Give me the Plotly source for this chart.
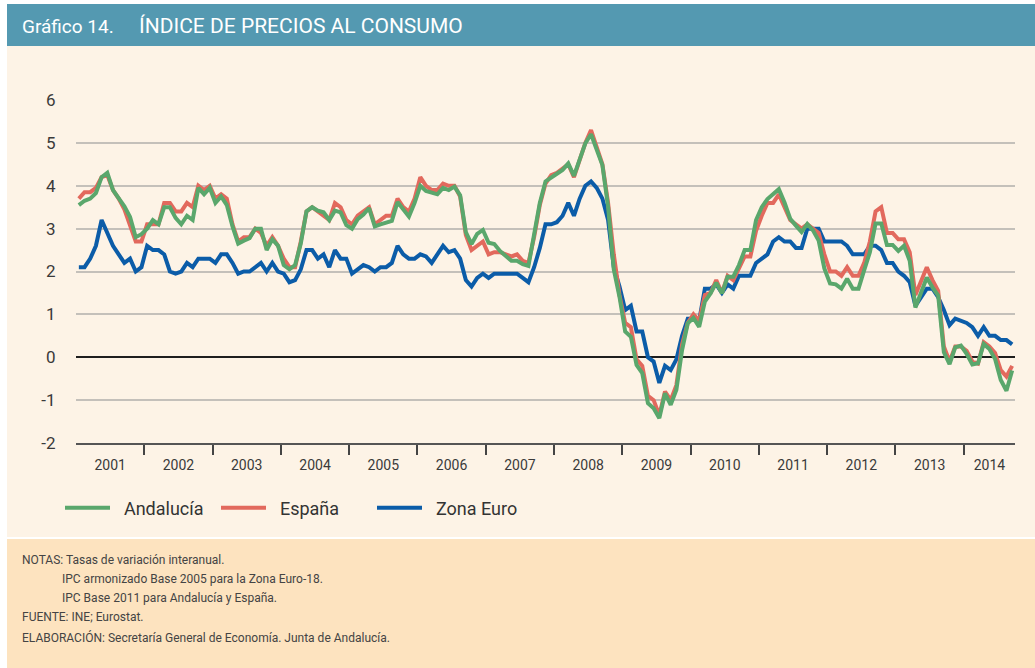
import plotly.graph_objects as go

# ---------------- data (monthly, Jan 2001 - Sep 2014) ----------------
years = ["2001", "2002", "2003", "2004", "2005", "2006", "2007",
         "2008", "2009", "2010", "2011", "2012", "2013", "2014"]

andalucia = [
    3.55, 3.65, 3.7, 3.83, 4.2, 4.3, 3.9, 3.72, 3.52, 3.27, 2.8, 2.87,
    3.0, 3.2, 3.1, 3.5, 3.5, 3.25, 3.1, 3.3, 3.2, 3.95, 3.8, 3.95,
    3.6, 3.75, 3.55, 3.05, 2.65, 2.72, 2.78, 3.0, 3.0, 2.5, 2.75, 2.6,
    2.15, 2.05, 2.15, 2.65, 3.4, 3.5, 3.42, 3.38, 3.2, 3.42, 3.38, 3.08,
    3.0, 3.22, 3.33, 3.48, 3.05, 3.1, 3.15, 3.18, 3.62, 3.43, 3.28, 3.6,
    4.0, 3.88, 3.85, 3.8, 3.95, 3.9, 3.98, 3.78, 2.92, 2.64, 2.88, 2.97,
    2.67, 2.64, 2.48, 2.36, 2.25, 2.25, 2.17, 2.13, 2.87, 3.6, 4.1, 4.2,
    4.28, 4.37, 4.52, 4.23, 4.6, 4.99, 5.2, 4.87, 4.48, 3.51, 2.05, 1.41,
    0.6, 0.48, -0.18, -0.37, -1.07, -1.19, -1.42, -0.84, -1.11, -0.76, 0.17, 0.79,
    0.92, 0.71, 1.3, 1.49, 1.74, 1.49, 1.88, 1.88, 2.15, 2.5, 2.5, 3.2,
    3.5, 3.69, 3.81, 3.92, 3.61, 3.23, 3.07, 2.92, 3.11, 2.96, 2.72, 2.07,
    1.72, 1.7, 1.6, 1.83, 1.6, 1.6, 2.03, 2.45, 3.12, 3.12, 2.62, 2.62,
    2.48, 2.6, 2.25, 1.16, 1.51, 1.86, 1.63, 1.44, 0.12, -0.16, 0.23, 0.27,
    0.08, -0.17, -0.14, 0.31, 0.19, -0.04, -0.53, -0.78, -0.31,
]

espana = [
    3.7, 3.85, 3.85, 3.95, 4.2, 4.25, 3.9, 3.7, 3.45, 3.1, 2.7, 2.7,
    3.1, 3.1, 3.1, 3.6, 3.6, 3.4, 3.4, 3.6, 3.5, 4.0, 3.9, 4.0,
    3.7, 3.8, 3.7, 3.1, 2.7, 2.8, 2.8, 3.0, 2.9, 2.6, 2.8, 2.6,
    2.3, 2.1, 2.1, 2.7, 3.4, 3.5, 3.4, 3.3, 3.2, 3.6, 3.5, 3.2,
    3.1, 3.3, 3.4, 3.5, 3.1, 3.2, 3.3, 3.3, 3.7, 3.5, 3.4, 3.7,
    4.2, 4.0, 3.9, 3.9, 4.05, 4.0, 4.0, 3.75, 2.85, 2.5, 2.6, 2.7,
    2.4, 2.45, 2.45, 2.4, 2.35, 2.4, 2.25, 2.2, 2.8, 3.55, 4.05, 4.25,
    4.3, 4.4, 4.5, 4.2, 4.6, 5.0, 5.3, 4.9, 4.5, 3.6, 2.4, 1.45,
    0.8, 0.7, -0.05, -0.2, -0.9, -1.0, -1.35, -0.8, -1.0, -0.65, 0.3, 0.8,
    1.0, 0.85, 1.45, 1.5, 1.8, 1.5, 1.9, 1.8, 2.1, 2.35, 2.35, 2.95,
    3.3, 3.6, 3.6, 3.8, 3.5, 3.2, 3.1, 3.0, 3.1, 3.0, 2.9, 2.4,
    2.0, 2.0, 1.9, 2.1, 1.9, 1.9, 2.2, 2.7, 3.4, 3.5, 2.9, 2.9,
    2.75, 2.75, 2.45, 1.45, 1.75, 2.1, 1.8, 1.55, 0.25, -0.1, 0.25, 0.25,
    0.15, -0.1, -0.15, 0.35, 0.25, 0.1, -0.3, -0.45, -0.2,
]

zona_euro = [
    2.1, 2.1, 2.3, 2.6, 3.2, 2.9, 2.6, 2.4, 2.2, 2.3, 2.0, 2.1,
    2.6, 2.5, 2.5, 2.4, 2.0, 1.95, 2.0, 2.2, 2.1, 2.3, 2.3, 2.3,
    2.2, 2.4, 2.4, 2.2, 1.95, 2.0, 2.0, 2.1, 2.2, 2.0, 2.2, 2.0,
    1.95, 1.75, 1.8, 2.05, 2.5, 2.5, 2.3, 2.4, 2.1, 2.5, 2.3, 2.3,
    1.95, 2.05, 2.15, 2.1, 2.0, 2.1, 2.1, 2.2, 2.6, 2.4, 2.3, 2.3,
    2.4, 2.35, 2.2, 2.4, 2.6, 2.45, 2.5, 2.3, 1.8, 1.65, 1.85, 1.95,
    1.85, 1.95, 1.95, 1.95, 1.95, 1.95, 1.85, 1.75, 2.1, 2.55, 3.1, 3.1,
    3.15, 3.3, 3.6, 3.3, 3.7, 4.0, 4.1, 3.95, 3.7, 3.2, 2.1, 1.65,
    1.1, 1.2, 0.6, 0.6, 0.0, -0.1, -0.6, -0.2, -0.3, -0.05, 0.5, 0.9,
    0.9, 0.85, 1.6, 1.6, 1.7, 1.5, 1.7, 1.6, 1.9, 1.9, 1.9, 2.2,
    2.3, 2.4, 2.7, 2.8, 2.7, 2.7, 2.55, 2.55, 3.0, 3.0, 3.0, 2.7,
    2.7, 2.7, 2.7, 2.6, 2.4, 2.4, 2.4, 2.6, 2.6, 2.5, 2.2, 2.2,
    2.0, 1.9, 1.75, 1.2, 1.4, 1.6, 1.6, 1.4, 1.1, 0.75, 0.9, 0.85,
    0.8, 0.7, 0.5, 0.7, 0.5, 0.5, 0.4, 0.4, 0.3,
]

series_names = ["Andalucía", "España", "Zona Euro"]
y_ticks = [-2, -1, 0, 1, 2, 3, 4, 5, 6]
y_ticktext = ["-2", "-1", "0", "1", "2", "3", "4", "5", "6"]
notes = [
    "NOTAS: Tasas de variación interanual.",
    "IPC armonizado Base 2005 para la Zona Euro-18.",
    "IPC Base 2011 para Andalucía y España.",
    "FUENTE: INE; Eurostat.",
    "ELABORACIÓN: Secretaría General de Economía. Junta de Andalucía.",
]

# ---------------- styling ----------------
FONT = "Roboto, sans-serif"
TXT = "#3a3a3a"
GREEN = "#5aa76c"
RED = "#e2695d"
BLUE = "#0b5ca8"
TEAL = "#5499b1"
CREAM = "#fdf3e6"
PEACH = "#fde3bf"

W, H = 1035, 668
L, R, T, B = 76, 20, 100, 225
PW, PH = W - L - R, H - T - B

def px_x(px):
    return (px - L) / PW

def px_y(py):
    return (H - B - py) / PH

n = len(andalucia)
x = list(range(n))
NB = "\u00a0\u00a0"

fig = go.Figure()
fig.add_trace(go.Scatter(x=x, y=zona_euro, name=NB + series_names[2], mode="lines",
                         line=dict(color=BLUE, width=4)))
fig.add_trace(go.Scatter(x=x, y=espana, name=NB + series_names[1], mode="lines",
                         line=dict(color=RED, width=4)))
fig.add_trace(go.Scatter(x=x, y=andalucia, name=NB + series_names[0], mode="lines",
                         line=dict(color=GREEN, width=4)))

year_mid = [i * 12 + 5.5 for i in range(len(years) - 1)] + [((len(years) - 1) * 12 - 0.5 + n - 0.5) / 2]
year_bounds = [i * 12 - 0.5 for i in range(1, len(years))]

fig.update_xaxes(
    range=[-0.5, n - 0.5],
    tickmode="array", tickvals=year_mid, ticktext=years,
    ticks="outside", ticklen=8, tickcolor="rgba(0,0,0,0)",
    tickfont=dict(family=FONT, size=14, color=TXT),
    showgrid=False, zeroline=False,
    showline=True, linecolor="#555555", linewidth=1.5,
    minor=dict(tickmode="array", tickvals=year_bounds, ticks="outside",
               ticklen=10, tickwidth=2, tickcolor="#444444", showgrid=False),
)
fig.update_yaxes(
    range=[-2, 6], tickmode="array", tickvals=y_ticks, ticktext=y_ticktext,
    ticks="outside", ticklen=16, tickcolor="rgba(0,0,0,0)",
    tickfont=dict(family=FONT, size=17, color=TXT),
    showgrid=True, gridcolor="#c4c0ba", gridwidth=1.5,
    zeroline=True, zerolinecolor="#1e1e1e", zerolinewidth=2,
    showline=False,
)

shapes = [
    dict(type="rect", xref="paper", yref="paper", x0=px_x(7), x1=px_x(W + 5),
         y0=px_y(46), y1=px_y(4), fillcolor=TEAL, line=dict(width=0), layer="below"),
    dict(type="rect", xref="paper", yref="paper", x0=px_x(7), x1=px_x(W + 5),
         y0=px_y(537), y1=px_y(46), fillcolor=CREAM, line=dict(width=0), layer="below"),
    dict(type="rect", xref="paper", yref="paper", x0=px_x(7), x1=px_x(W + 5),
         y0=px_y(H + 5), y1=px_y(539), fillcolor=PEACH, line=dict(width=0), layer="below"),
]

annotations = [
    dict(text="Gráfico 14.", x=px_x(20), y=px_y(26), xref="paper", yref="paper",
         xanchor="left", yanchor="middle", showarrow=False,
         font=dict(family=FONT, size=19, color="white")),
    dict(text="ÍNDICE DE PRECIOS AL CONSUMO", x=px_x(137), y=px_y(26), xref="paper", yref="paper",
         xanchor="left", yanchor="middle", showarrow=False,
         font=dict(family=FONT, size=21, color="white")),
]
note_pos = [(20, 560), (60, 579), (60, 598), (20, 617), (20, 637)]
for (nx, ny), t in zip(note_pos, notes):
    annotations.append(dict(text=t, x=px_x(nx), y=px_y(ny), xref="paper", yref="paper",
                            xanchor="left", yanchor="middle", showarrow=False,
                            font=dict(family=FONT, size=12, color="#444444")))

fig.update_layout(
    width=W, height=H,
    margin=dict(l=L, r=R, t=T, b=B),
    paper_bgcolor="white", plot_bgcolor="rgba(0,0,0,0)",
    shapes=shapes, annotations=annotations,
    showlegend=True,
    legend=dict(orientation="h", traceorder="reversed",
                x=px_x(60), y=px_y(508), xanchor="left", yanchor="middle",
                font=dict(family=FONT, size=18, color="#333333"),
                bgcolor="rgba(0,0,0,0)", itemwidth=45,
                entrywidth=96, entrywidthmode="pixels"),
    hovermode=False,
)

fig.write_html(
    "out.html",
    config={"displayModeBar": False},
    post_script="document.body.style.margin='0';document.body.style.padding='0';"
                "document.documentElement.style.overflow='hidden';",
)
